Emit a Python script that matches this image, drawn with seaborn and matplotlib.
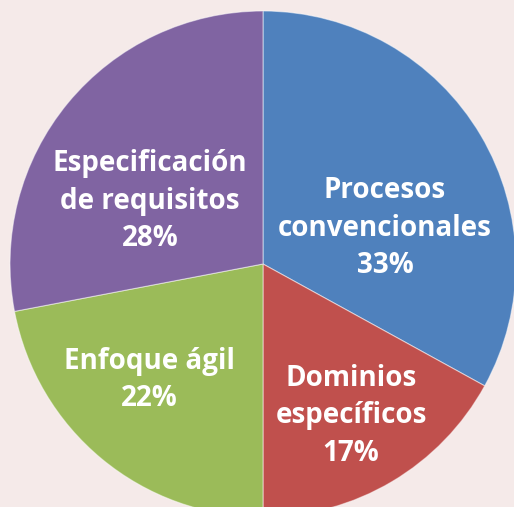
import matplotlib
matplotlib.use("Agg")
import matplotlib.pyplot as plt
import seaborn as sns

# Data
labels = ["Procesos\nconvencionales", "Dominios\nespecíficos", "Enfoque ágil", "Especificación\nde requisitos"]
shares = [33, 17, 22, 28]
colors = ["#4F81BD", "#C0504D", "#9BBB59", "#8064A2"]

bg = "#F5EAE9"
sns.set_theme(style="white")
plt.rcParams["font.family"] = ["Open Sans", "DejaVu Sans"]

fig = plt.figure(figsize=(5.14, 5.07), dpi=100, facecolor=bg)
ax = fig.add_axes([0, 0, 1, 1])
ax.set_facecolor(bg)

wedges, _ = ax.pie(shares, colors=colors, startangle=90, counterclock=False,
                   radius=1.0, wedgeprops=dict(linewidth=0.8, edgecolor=(1, 1, 1, 0.5)))

# pixel mapping: centre at (263, 264), radius 253 px
r = 253.0
cx, cy = 263.0, 264.0
ax.set_xlim(-cx / r, (514 - cx) / r)
ax.set_ylim(-(507 - cy) / r, cy / r)
ax.set_aspect("auto")
ax.axis("off")

# label centres in pixels
label_pos = [(385, 228), (351, 416), (149, 380), (150, 201)]
for lab, val, (px, py) in zip(labels, shares, label_pos):
    ax.text((px - cx) / r, (cy - py) / r, f"{lab}\n{val}%", ha="center", va="center",
            color="white", fontsize=20, fontweight="bold", linespacing=1.4)

fig.savefig("out.png", dpi=100, facecolor=bg)
